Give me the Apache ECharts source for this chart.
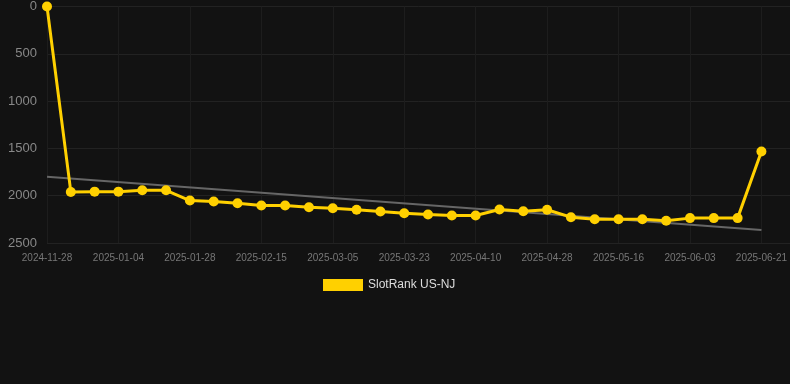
<!DOCTYPE html>
<html><head><meta charset="utf-8">
<script src="https://cdn.jsdelivr.net/npm/echarts@6/dist/echarts.min.js"></script>
<style>html,body{margin:0;padding:0;background:#121212;}#c{width:790px;height:384px;}</style>
</head><body><div id="c"></div>
<script>
const categories = ['2024-11-28','2024-12-10','2024-12-22','2025-01-04','2025-01-12','2025-01-20','2025-01-28','2025-02-03','2025-02-09','2025-02-15','2025-02-21','2025-02-27','2025-03-05','2025-03-11','2025-03-17','2025-03-23','2025-03-29','2025-04-04','2025-04-10','2025-04-16','2025-04-22','2025-04-28','2025-05-04','2025-05-10','2025-05-16','2025-05-22','2025-05-28','2025-06-03','2025-06-09','2025-06-15','2025-06-21'];
const rankValues = [0,1960,1957,1957,1943,1943,2051,2062,2080,2104,2104,2122,2132,2149,2167,2185,2199,2209,2209,2146,2164,2149,2227,2248,2248,2248,2265,2237,2237,2237,1533];
const trendEnds = [1800, 2363];
const yTicks = [0,500,1000,1500,2000,2500];

const lastIdx = categories.length - 1;
const chart = echarts.init(document.getElementById('c'));
chart.setOption({
  backgroundColor: '#121212',
  animation: false,
  grid: {left: 47, right: 0, top: 6, bottom: 141},
  xAxis: {
    type: 'value', min: 0, max: 31.2, interval: 3,
    axisLine: {show: false}, axisTick: {show: false},
    axisLabel: {color: '#777', fontSize: 10, fontFamily: 'Liberation Sans, Arial', margin: 10, showMaxLabel: false,
      formatter: v => (Number.isInteger(v) && categories[v]) ? categories[v] : ''},
    splitLine: {show: true, lineStyle: {color: '#1d1d1d', width: 1}}
  },
  yAxis: {
    type: 'value', inverse: true, min: yTicks[0], max: yTicks[yTicks.length-1], interval: 500,
    axisLine: {show: false}, axisTick: {show: false},
    axisLabel: {color: '#888', fontSize: 13, fontFamily: 'Liberation Sans, Arial', margin: 10, formatter: v => String(v)},
    splitLine: {lineStyle: {color: '#222', width: 1}}
  },
  legend: {
    bottom: 88, left: 318, itemWidth: 40, itemHeight: 12, icon: 'rect', itemGap: 10,
    textStyle: {color: '#ddd', fontSize: 12, fontFamily: 'Liberation Sans, Arial'},
    data: ['SlotRank US-NJ']
  },
  series: [
    {
      name: 'trend', type: 'line', symbol: 'none', silent: true,
      data: [[0, trendEnds[0]], [lastIdx, trendEnds[1]]],
      lineStyle: {color: '#666', width: 2}, z: 1
    },
    {
      name: 'SlotRank US-NJ', type: 'line', symbol: 'circle', symbolSize: 10,
      data: rankValues.map((v, i) => [i, v]),
      itemStyle: {color: '#FFD000'},
      lineStyle: {color: '#FFD000', width: 3}, z: 3
    }
  ]
});
</script></body></html>
